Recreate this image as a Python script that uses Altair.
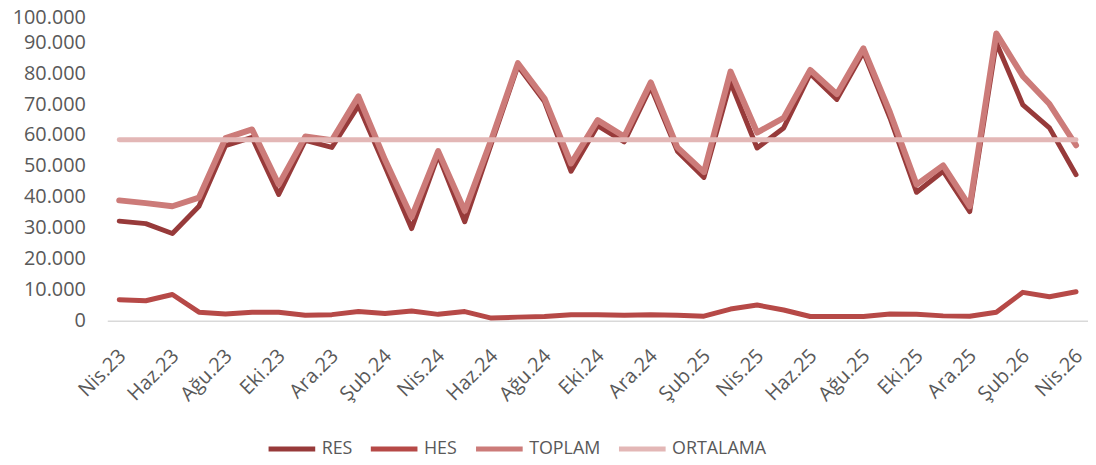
import altair as alt
import pandas as pd

months = ["Nis.23", "May.23", "Haz.23", "Tem.23", "Ağu.23", "Eyl.23", "Eki.23", "Kas.23", "Ara.23",
          "Oca.24", "Şub.24", "Mar.24", "Nis.24", "May.24", "Haz.24", "Tem.24", "Ağu.24", "Eyl.24",
          "Eki.24", "Kas.24", "Ara.24", "Oca.25", "Şub.25", "Mar.25", "Nis.25", "May.25", "Haz.25",
          "Tem.25", "Ağu.25", "Eyl.25", "Eki.25", "Kas.25", "Ara.25", "Oca.26", "Şub.26", "Mar.26",
          "Nis.26"]

res = [32200, 31400, 28200, 37000, 56600, 59200, 40800, 58300, 56000,
       69500, 49800, 29800, 53500, 32000, 57200, 82300, 70800, 48300,
       63000, 57800, 75500, 54800, 46300, 77000, 55800, 62300, 79800,
       71500, 86800, 65500, 41500, 48300, 35300, 89800, 69700, 62300,
       47200]

hes = [6800, 6500, 8500, 2800, 2200, 2800, 2800, 1800, 2000,
       3000, 2400, 3200, 2100, 3000, 900, 1200, 1400, 2000,
       2000, 1800, 2000, 1800, 1500, 3800, 5100, 3500, 1400,
       1400, 1400, 2200, 2100, 1600, 1500, 2800, 9200, 7800,
       9400]

toplam = [38900, 38000, 37000, 39800, 59000, 61800, 44000, 59500, 58300,
          72500, 52000, 33500, 54800, 35500, 58500, 83200, 71800, 50800,
          64800, 59500, 77000, 56000, 48000, 80500, 60800, 65500, 81000,
          73200, 88000, 67300, 44000, 50200, 37000, 92800, 79000, 70000,
          56700]

ortalama_value = 58500
ortalama = [ortalama_value] * len(months)

series = ["RES", "HES", "TOPLAM", "ORTALAMA"]
colors = ["#973a3a", "#b64947", "#cc7b79", "#e3b7b6"]
widths = [5, 5, 6, 5]
y_ticks = list(range(0, 100001, 10000))

rows = []
for name, vals in zip(series, [res, hes, toplam, ortalama]):
    for m, v in zip(months, vals):
        rows.append({"month": m, "series": name, "value": v})
df = pd.DataFrame(rows)

base = alt.Chart(df).encode(
    x=alt.X("month:N", sort=months,
            scale=alt.Scale(type="point", padding=0.45),
            axis=alt.Axis(title=None, values=months[::2], labelAngle=-45,
                          labelAlign="right", labelBaseline="middle",
                          labelPadding=32, labelOffset=3, labelFontSize=20,
                          labelColor="#595959",
                          ticks=False, tickSize=0, domainColor="#d9d9d9",
                          domainWidth=1.5, grid=False)),
    y=alt.Y("value:Q",
            scale=alt.Scale(domain=[0, 100000], nice=False),
            axis=alt.Axis(title=None, values=y_ticks,
                          labelExpr="replace(format(datum.value, ','), ',', '.')",
                          labelOffset={"condition": {"test": "datum.value == 100000", "value": 6},
                                       "value": 0},
                          labelFontSize=20, labelColor="#595959", labelPadding=22,
                          ticks=False, tickSize=0, domain=False, grid=False)),
    color=alt.Color("series:N",
                    scale=alt.Scale(domain=series, range=colors),
                    legend=alt.Legend(title=None, orient="none", direction="horizontal",
                                      legendX=160, legendY=415,
                                      symbolType="stroke", symbolStrokeWidth=5,
                                      symbolSize=2209, labelFontSize=18,
                                      labelColor="#595959", labelOffset=4,
                                      columnPadding=8)),
)

layers = [
    base.transform_filter(alt.datum.series == s).mark_line(
        strokeWidth=w, strokeCap="round", strokeJoin="round")
    for s, w in zip(series, widths)
]

chart = alt.layer(*layers).properties(
    width=988, height=312,
    autosize=alt.AutoSizeParams(type="none"),
    padding={"left": 100, "top": 1.5, "right": 0, "bottom": 135},
).configure(font="Open Sans").configure_view(stroke=None)

chart.save("out.html", embed_options={"renderer": "svg", "actions": False})
